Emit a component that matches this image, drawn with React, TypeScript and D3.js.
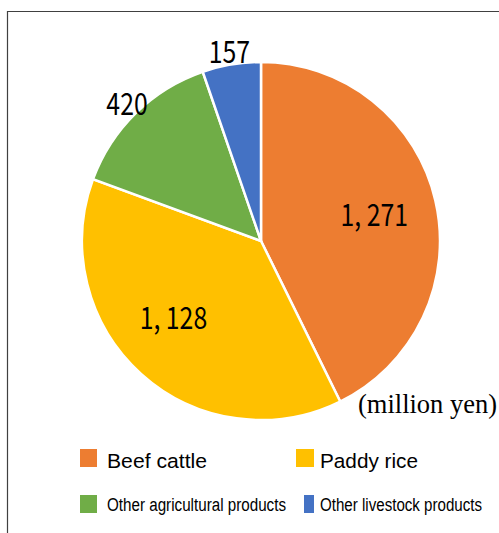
import React from "react";
import * as d3 from "d3";

const categories = ["Beef cattle", "Paddy rice", "Other agricultural products", "Other livestock products"];
const values = [1271, 1128, 420, 157];
const valueLabels = ["1, 271", "1, 128", "420", "157"];
const colors = ["#ED7D31", "#FFC000", "#70AD47", "#4472C4"];
const unitLabel = "(million yen)";

const W = 499;
const H = 533;

export default function App() {
  const cx = 261;
  const cy = 241;
  const r = 179;
  const pie = d3.pie<number>().sort(null).value((d) => d)(values);
  const arc = d3.arc<d3.PieArcDatum<number>>().innerRadius(0).outerRadius(r);
  const total = d3.sum(values);

  const labelPos = (d: d3.PieArcDatum<number>) => {
    const share = d.value / total;
    const lr = share > 0.25 ? r * 0.65 : r * 1.07;
    const mid = (d.startAngle + d.endAngle) / 2 + (share > 0.25 && d.index === 1 ? 0.12 : 0);
    return [Math.sin(mid) * lr, -Math.cos(mid) * lr];
  };

  const legendRows = [
    { idx: 0, x: 80, sw: 17, tx: 107, y: 449, size: 20.5, len: 100, base: 468 },
    { idx: 1, x: 296, sw: 18, tx: 320, y: 449, size: 20.5, len: 98, base: 468 },
    { idx: 2, x: 80, sw: 17, tx: 107, y: 495, size: 18, len: 179, base: 511 },
    { idx: 3, x: 304, sw: 10, tx: 320, y: 495, size: 18, len: 162, base: 511 },
  ];

  return (
    <svg
      width={W}
      height={H}
      style={{ position: "absolute", left: 0, top: 0, background: "#fff" }}
    >
      <path d={`M7.5,${H} V11.5 H${W}`} fill="none" stroke="#404040" strokeWidth={1.2} />
      <g transform={`translate(${cx},${cy})`}>
        {pie.map((d, i) => (
          <path key={i} d={arc(d) || ""} fill={colors[i]} stroke="#fff" strokeWidth={2.5} />
        ))}
        {pie.map((d, i) => {
          const [x, y] = labelPos(d);
          return (
            <text
              key={"l" + i}
              transform={`translate(${x},${y + 11}) scale(0.8,1)`}
              textAnchor="middle"
              fontFamily="'Noto Sans CJK JP', 'Noto Sans', sans-serif"
              fontSize={31}
              fill="#000"
            >
              {valueLabels[i]}
            </text>
          );
        })}
      </g>
      <text
        x={497}
        y={413}
        textAnchor="end"
        fontFamily="'Liberation Serif', 'Times New Roman', serif"
        fontSize={27}
        textLength={139}
        lengthAdjust="spacingAndGlyphs"
        fill="#000"
      >
        {unitLabel}
      </text>
      {legendRows.map((row) => (
        <g key={row.idx}>
          <rect x={row.x} y={row.y} width={row.sw} height={18} fill={colors[row.idx]} />
          <text
            x={row.tx}
            y={row.base}
            fontFamily="'Liberation Sans', Arial, sans-serif"
            fontSize={row.size}
            textLength={row.len}
            lengthAdjust="spacingAndGlyphs"
            fill="#000"
          >
            {categories[row.idx]}
          </text>
        </g>
      ))}
    </svg>
  );
}
